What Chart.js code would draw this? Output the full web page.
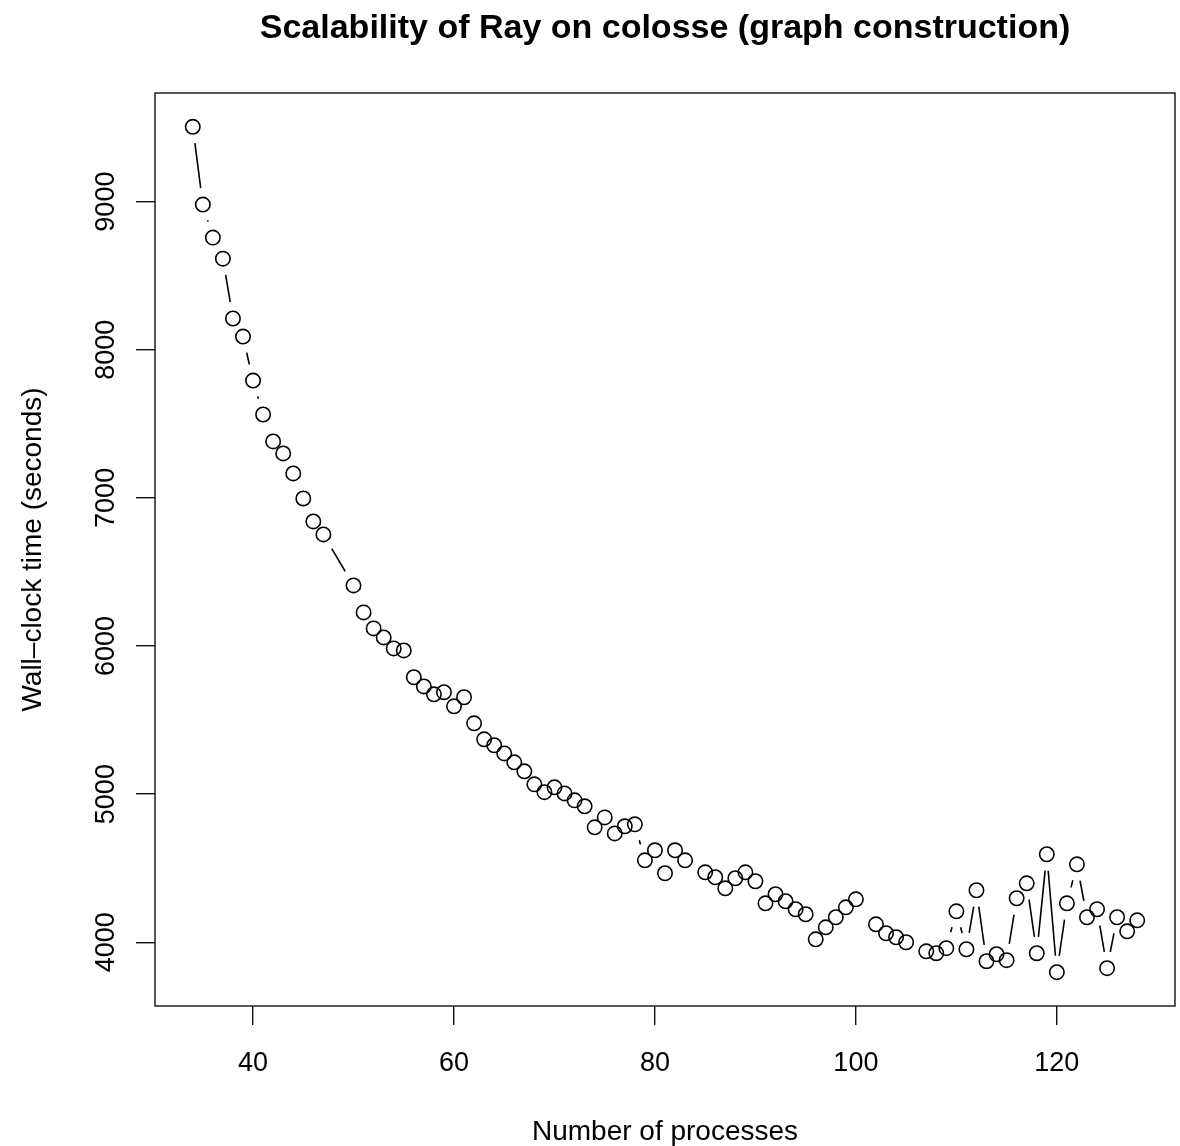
<!DOCTYPE html>
<html>
<head>
<meta charset="utf-8">
<title>Scalability of Ray on colosse (graph construction)</title>
<script src="https://cdn.jsdelivr.net/npm/chart.js@4.4.0/dist/chart.umd.min.js"></script>
<style>
    body { margin: 0; background: #fff; }
    #chart { display: block; }
</style>
</head>
<body>
<canvas id="chart" width="1180" height="1146"></canvas>
<script>
// number of processes (48, 49, 84, 101, 106 were not run)
const processes = [
    34, 35, 36, 37, 38, 39, 40, 41, 42, 43, 44, 45, 46, 47,
    50, 51, 52, 53, 54, 55, 56, 57, 58, 59, 60, 61, 62, 63, 64, 65, 66, 67, 68, 69,
    70, 71, 72, 73, 74, 75, 76, 77, 78, 79, 80, 81, 82, 83,
    85, 86, 87, 88, 89, 90, 91, 92, 93, 94, 95, 96, 97, 98, 99, 100,
    102, 103, 104, 105,
    107, 108, 109, 110, 111, 112, 113, 114, 115, 116, 117, 118, 119, 120,
    121, 122, 123, 124, 125, 126, 127, 128
];

// wall-clock time in seconds
const wallClock = [
    9505, 8980, 8757, 8615, 8211, 8089, 7792, 7563, 7381, 7300, 7165, 6996, 6841, 6753,
    6409, 6227, 6119, 6058, 5984, 5970, 5789, 5727, 5674, 5688, 5593, 5654, 5478, 5370, 5330, 5275, 5215, 5154, 5066, 5013,
    5046, 5005, 4958, 4918, 4776, 4843, 4735, 4783, 4796, 4553, 4621, 4466, 4621, 4553,
    4472, 4439, 4364, 4432, 4472, 4412, 4263, 4324, 4277, 4223, 4189, 4020, 4101, 4169, 4236, 4290,
    4121, 4061, 4034, 4000,
    3939, 3926, 3960, 4209, 3953, 4351, 3872, 3919, 3879, 4297, 4398, 3926, 4594, 3798,
    4263, 4526, 4169, 4223, 3825, 4169, 4074, 4148
];

const xTicks = [40, 60, 80, 100, 120];
const yTicks = [4000, 5000, 6000, 7000, 8000, 9000];

const FONT = "'Liberation Sans', Arial, sans-serif";

// R widens the data range by 4% on each side
function padRange(values) {
    const lo = Math.min(...values), hi = Math.max(...values);
    const d = (hi - lo) * 0.04;
    return { min: lo - d, max: hi + d };
}
const xRange = padRange(processes);
const yRange = padRange(wallClock);

// type="b" lines: segments stop short of each circle
const gapLines = {
    id: 'gapLines',
    afterDatasetsDraw(chart) {
        const pts = chart.getDatasetMeta(0).data;
        const ctx = chart.ctx;
        const gap = 16.5;
        ctx.save();
        ctx.strokeStyle = '#000';
        ctx.lineWidth = 1.6;
        ctx.beginPath();
        for (let i = 1; i < pts.length; i++) {
            const a = pts[i - 1], b = pts[i];
            const dx = b.x - a.x, dy = b.y - a.y;
            const len = Math.hypot(dx, dy);
            if (len <= 2 * gap) continue;
            const f = gap / len;
            ctx.moveTo(a.x + dx * f, a.y + dy * f);
            ctx.lineTo(b.x - dx * f, b.y - dy * f);
        }
        ctx.stroke();
        ctx.restore();
    }
};

const plotBox = {
    id: 'plotBox',
    beforeDraw(chart) {
        const ctx = chart.ctx;
        ctx.save();
        ctx.fillStyle = '#fff';
        ctx.fillRect(0, 0, chart.width, chart.height);
        ctx.restore();
    },
    afterDraw(chart) {
        const { left, top, right, bottom } = chart.chartArea;
        const ctx = chart.ctx;
        ctx.save();
        ctx.strokeStyle = '#111';
        ctx.lineWidth = 1.4;
        ctx.strokeRect(left, top, right - left, bottom - top);
        ctx.restore();
    }
};

new Chart(document.getElementById('chart'), {
    type: 'scatter',
    data: {
        datasets: [{
            data: processes.map((p, i) => ({ x: p, y: wallClock[i] })),
            showLine: false,
            pointStyle: 'circle',
            pointRadius: 7.2,
            pointBorderWidth: 1.6,
            pointBorderColor: '#000',
            pointBackgroundColor: 'rgba(0,0,0,0)'
        }]
    },
    options: {
        responsive: false,
        devicePixelRatio: 1,
        animation: false,
        layout: { autoPadding: false, padding: { left: 0, right: 5, top: 0, bottom: 0 } },
        plugins: {
            legend: { display: false },
            tooltip: { enabled: false },
            title: {
                display: true,
                fullSize: false,
                text: 'Scalability of Ray on colosse (graph construction)',
                color: '#000',
                font: { family: FONT, size: 34, weight: 'bold' },
                padding: { top: 8, bottom: 44.2 }
            }
        },
        scales: {
            x: {
                type: 'linear',
                min: xRange.min,
                max: xRange.max,
                afterBuildTicks: s => { s.ticks = xTicks.map(v => ({ value: v })); },
                afterFit: s => { s.height = 140; },
                border: { display: false },
                grid: {
                    drawOnChartArea: false,
                    drawTicks: true,
                    tickLength: 19,
                    color: '#111',
                    lineWidth: 1.4
                },
                ticks: {
                    color: '#000',
                    padding: 22,
                    maxRotation: 0,
                    callback: v => String(v),
                    font: { family: FONT, size: 27 }
                },
                title: {
                    display: true,
                    text: 'Number of processes',
                    color: '#000',
                    padding: 0,
                    font: { family: FONT, size: 28, lineHeight: 1 }
                }
            },
            y: {
                type: 'linear',
                min: yRange.min,
                max: yRange.max,
                afterBuildTicks: s => { s.ticks = yTicks.map(v => ({ value: v })); },
                afterFit: s => { s.width = 155; },
                border: { display: false },
                grid: {
                    drawOnChartArea: false,
                    drawTicks: true,
                    tickLength: 19,
                    color: '#111',
                    lineWidth: 1.4
                },
                ticks: {
                    color: '#000',
                    padding: -1,
                    minRotation: 90,
                    maxRotation: 90,
                    crossAlign: 'center',
                    callback: v => String(v),
                    font: { family: FONT, size: 27 }
                },
                title: {
                    display: true,
                    text: 'Wall\u2013clock time (seconds)',
                    color: '#000',
                    padding: { top: 19, bottom: 0 },
                    font: { family: FONT, size: 28, lineHeight: 1 }
                }
            }
        }
    },
    plugins: [plotBox, gapLines]
});
</script>
</body>
</html>
